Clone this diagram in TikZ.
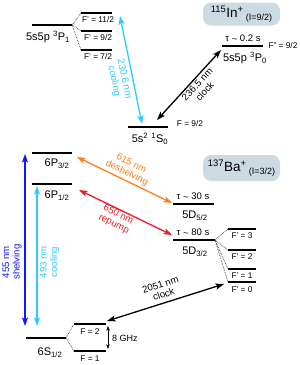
\documentclass[tikz,border=0pt]{standalone}
\usepackage{fontspec}
\setmainfont{Liberation Sans}
\usetikzlibrary{arrows.meta}
\definecolor{cyanL}{RGB}{45,205,250}
\definecolor{blueS}{RGB}{15,25,245}
\definecolor{orangeD}{RGB}{255,125,30}
\definecolor{redR}{RGB}{238,25,40}
\definecolor{boxC}{RGB}{204,218,226}
\newcommand{\sbsc}[1]{\textsubscript{#1}}
\newcommand{\sps}[1]{\textsuperscript{#1}}
\newcommand{\tld}{\raisebox{-0.12em}{\textasciitilde}}
\begin{document}
\begin{tikzpicture}[x=1pt,y=-1pt,
  lvl/.style={line width=2.2pt},
  hfs/.style={line width=2pt},
  split/.style={densely dotted, line width=0.6pt},
  trans/.style={line width=1.3pt,{Stealth[length=8.5pt,width=6pt,inset=1.8pt]}-{Stealth[length=8.5pt,width=6pt,inset=1.8pt]}},
  smalltrans/.style={line width=0.9pt,{Stealth[length=4.5pt,width=3.5pt,inset=1pt]}-{Stealth[length=4.5pt,width=3.5pt,inset=1pt]}},
  lvllab/.style={font=\fontsize{11}{12}\selectfont, inner sep=0pt},
  hflab/.style={font=\fontsize{8.3}{9}\selectfont, inner sep=0pt},
  taulab/.style={font=\fontsize{9.5}{10}\selectfont, inner sep=0pt},
  txlab/.style={font=\fontsize{9.6}{10.4}\selectfont, inner sep=0pt, align=center},
  ionbox/.style={rounded corners=8pt, fill=boxC, draw=none, inner sep=0pt, minimum width=77pt, font=\fontsize{13.5}{14}\selectfont}
]
\useasboundingbox (0,0) rectangle (300,365);

% ================= Indium =================
\node[ionbox, minimum height=23pt] (inbox) at (241.5,14) {\sps{115}In\sps{+}\,\raisebox{-2.5pt}{\fontsize{9}{10}\selectfont (I=9/2)}};

% 3P1 and hyperfine
\coordinate (P1a) at (32,25); \coordinate (P1b) at (72,25);
\draw[lvl] (P1a) -- (P1b);
\node[lvllab] (P1lab) at (48,37) {5s5p \sps{3}P\sbsc{1}};
\coordinate (F11a) at (81,13); \coordinate (F11b) at (112,13);
\coordinate (F9a) at (81,31); \coordinate (F9b) at (112,31);
\coordinate (F7a) at (81,50); \coordinate (F7b) at (112,50);
\draw[hfs] (F11a) -- (F11b);
\draw[hfs] (F9a) -- (F9b);
\draw[hfs] (F7a) -- (F7b);
\draw[split] (P1b) -- (F11a);
\draw[split] (P1b) -- (F9a);
\draw[split] (P1b) -- (F7a);
\node[hflab] (F11lab) at (98,19.5) {F' = 11/2};
\node[hflab] (F9lab) at (98,37.5) {F' = 9/2};
\node[hflab] (F7lab) at (98,57) {F' = 7/2};

% 1S0
\coordinate (S0a) at (128,127); \coordinate (S0b) at (168,127);
\draw[lvl] (S0a) -- (S0b);
\node[lvllab] (S0lab) at (150,139) {5s\sps{2} \sps{1}S\sbsc{0}};
\node[hflab] (S0F) at (190,124) {F = 9/2};

% 3P0
\coordinate (P0a) at (222,46); \coordinate (P0b) at (263,46);
\draw[lvl] (P0a) -- (P0b);
\node[taulab] (P0tau) at (243,39) {τ \tld\ 0.2 s};
\node[lvllab] (P0lab) at (245,58) {5s5p \sps{3}P\sbsc{0}};
\node[hflab] (P0F) at (283,46) {F'' = 9/2};

% transitions
\coordinate (c230t) at (120,16); \coordinate (c230b) at (142,124);
\draw[trans, cyanL] (c230t) -- (c230b);
\node[txlab, text=cyanL, rotate=-78] (l230) at (119,80) {230.6 nm\\cooling};

\coordinate (c236t) at (221,50); \coordinate (c236b) at (157,120);
\draw[trans] (c236b) -- (c236t);
\node[txlab, rotate=47] (l236) at (201,88) {236.5 nm\\clock};

% ================= Barium =================
\node[ionbox, minimum height=26pt] (babox) at (241.5,168) {\sps{137}Ba\sps{+}\,\raisebox{-2.5pt}{\fontsize{9}{10}\selectfont (I=3/2)}};

\coordinate (P3a) at (32,153); \coordinate (P3b) at (72,153);
\draw[lvl] (P3a) -- (P3b);
\node[lvllab] (P3lab) at (57,164) {6P\sbsc{3/2}};

\coordinate (P12a) at (32,184); \coordinate (P12b) at (72,184);
\draw[lvl] (P12a) -- (P12b);
\node[lvllab] (P12lab) at (57,196) {6P\sbsc{1/2}};

\coordinate (D5a) at (173,204); \coordinate (D5b) at (214,204);
\draw[lvl] (D5a) -- (D5b);
\node[taulab] (D5tau) at (193,197) {τ \tld\ 30 s};
\node[lvllab] (D5lab) at (195,216) {5D\sbsc{5/2}};

\coordinate (D3a) at (173,240); \coordinate (D3b) at (215,240);
\draw[lvl] (D3a) -- (D3b);
\node[taulab] (D3tau) at (193,233) {τ \tld\ 80 s};
\node[lvllab] (D3lab) at (195,252) {5D\sbsc{3/2}};

\coordinate (G3a) at (228,229); \coordinate (G3b) at (256,229);
\coordinate (G2a) at (228,250); \coordinate (G2b) at (256,250);
\coordinate (G1a) at (228,269); \coordinate (G1b) at (256,269);
\coordinate (G0a) at (228,282); \coordinate (G0b) at (256,282);
\draw[hfs] (G3a) -- (G3b);
\draw[hfs] (G2a) -- (G2b);
\draw[hfs] (G1a) -- (G1b);
\draw[hfs] (G0a) -- (G0b);
\draw[split] (D3b) -- (G3a);
\draw[split] (D3b) -- (G2a);
\draw[split] (D3b) -- (G1a);
\draw[split] (D3b) -- (G0a);
\node[hflab] (G3lab) at (242,235.5) {F' = 3};
\node[hflab] (G2lab) at (242,256.5) {F' = 2};
\node[hflab] (G1lab) at (242,275.5) {F' = 1};
\node[hflab] (G0lab) at (242,289.5) {F' = 0};

\coordinate (S12a) at (26,338); \coordinate (S12b) at (66,338);
\draw[lvl] (S12a) -- (S12b);
\node[lvllab] (S12lab) at (50,353) {6S\sbsc{1/2}};
\coordinate (H2a) at (74,324); \coordinate (H2b) at (106,324);
\coordinate (H1a) at (74,351); \coordinate (H1b) at (106,351);
\draw[hfs] (H2a) -- (H2b);
\draw[hfs] (H1a) -- (H1b);
\draw[split] (S12b) -- (H2a);
\draw[split] (S12b) -- (H1a);
\node[hflab] (H2lab) at (90,332) {F = 2};
\node[hflab] (H1lab) at (90,359) {F = 1};
\coordinate (g8t) at (108,326); \coordinate (g8b) at (108,349);
\draw[smalltrans] (g8t) -- (g8b);
\node[hflab, font=\fontsize{9}{10}\selectfont] (g8lab) at (125,338) {8 GHz};

% transitions
\coordinate (c455t) at (25,154); \coordinate (c455b) at (25,326);
\draw[trans, blueS] (c455t) -- (c455b);
\node[txlab, text=blueS, rotate=90] (l455) at (12,262) {455 nm\\shelving};

\coordinate (c493t) at (37,186); \coordinate (c493b) at (37,326);
\draw[trans, cyanL] (c493t) -- (c493b);
\node[txlab, text=cyanL, rotate=90] (l493) at (49.5,262) {493 nm\\cooling};

\coordinate (c615a) at (77,157); \coordinate (c615b) at (172,203);
\draw[trans, orangeD] (c615a) -- (c615b);
\node[txlab, text=orangeD, rotate=-26] (l615) at (129,168.5) {615 nm\\deshelving};

\coordinate (c650a) at (79,190); \coordinate (c650b) at (172,235);
\draw[trans, redR] (c650a) -- (c650b);
\node[txlab, text=redR, rotate=-26] (l650) at (116,219.5) {650 nm\\repump};

\coordinate (c2051a) at (107,321); \coordinate (c2051b) at (224,284);
\draw[trans] (c2051a) -- (c2051b);
\node[txlab, rotate=18] (l2051) at (162,289.5) {2051 nm\\clock};

\end{tikzpicture}
\end{document}
